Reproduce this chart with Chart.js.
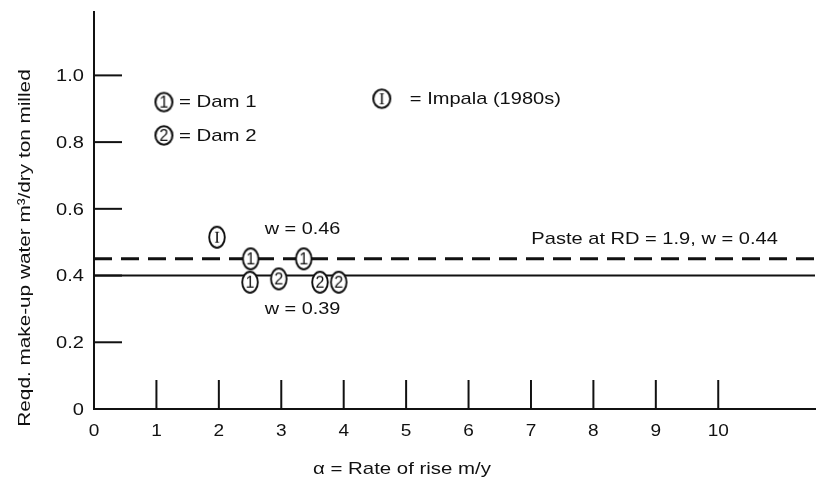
<!DOCTYPE html>
<html>
<head>
<meta charset="utf-8">
<script src="https://cdn.jsdelivr.net/npm/chart.js@4/dist/chart.umd.min.js"></script>
<style>
  html, body { margin: 0; padding: 0; background: #fff; }
</style>
</head>
<body>
<canvas id="chart" width="824" height="488"></canvas>
<script>
// Data
const xTicks = [0, 1, 2, 3, 4, 5, 6, 7, 8, 9, 10];
const yTicks = [0, 0.2, 0.4, 0.6, 0.8, 1.0];

const impalaX = [1.97];
const impalaY = [0.515];
const dam1X = [2.51, 3.36, 2.5];
const dam1Y = [0.45, 0.45, 0.38];
const dam2X = [2.96, 3.62, 3.92];
const dam2Y = [0.39, 0.38, 0.38];

// horizontal reference lines
const lineX = [0, 11.55];
const pasteY = [0.45, 0.45];   // Paste at RD = 1.9, w = 0.44 (dashed)
const wY = [0.4, 0.4];         // solid line

const FONT = '"Liberation Sans", Arial, sans-serif';
const INK = '#111';

function toPoints(xs, ys) {
  return xs.map((x, i) => ({ x: x, y: ys[i] }));
}

// circled number markers
function makeMarker(label, rx, ry, lw, serif) {
  const c = document.createElement('canvas');
  c.width = Math.ceil(rx * 2 + 4);
  c.height = Math.ceil(ry * 2 + 4);
  const g = c.getContext('2d');
  const cx = c.width / 2, cy = c.height / 2;
  g.fillStyle = '#fff';
  g.strokeStyle = INK;
  g.lineWidth = lw;
  g.beginPath();
  g.ellipse(cx, cy, rx, ry, 0, 0, Math.PI * 2);
  g.fill();
  g.stroke();
  g.fillStyle = INK;
  g.textAlign = 'center';
  g.textBaseline = 'middle';
  g.font = serif ? '17px "Liberation Serif", serif' : '16px ' + FONT;
  g.fillText(label, cx, cy + 1);
  return c;
}
const mark1 = makeMarker('1', 7.8, 10.5, 1.9);
const mark2 = makeMarker('2', 7.8, 10.5, 1.9);
const markI = makeMarker('I', 7.8, 10.5, 1.9, true);
const key1 = makeMarker('1', 8.5, 9.2, 2.1);
const key2 = makeMarker('2', 8.5, 9.2, 2.1);
const keyI = makeMarker('I', 8.5, 9.2, 2.1, true);

// wide Helvetica-like lettering of the original
function wideText(ctx, s, x, y, align, size, stretch, angle) {
  ctx.save();
  ctx.translate(x, y);
  if (angle) ctx.rotate(angle);
  ctx.scale(stretch, 1);
  ctx.font = size + 'px ' + FONT;
  ctx.fillStyle = INK;
  ctx.textAlign = align;
  ctx.textBaseline = 'middle';
  ctx.fillText(s, 0, 0);
  ctx.restore();
}

const decorPlugin = {
  id: 'decor',
  afterDraw(chart) {
    const { ctx, chartArea, scales } = chart;
    const sx = scales.x, sy = scales.y;
    ctx.save();
    ctx.strokeStyle = INK;
    ctx.lineWidth = 2;
    // inner tick marks and tick labels
    xTicks.forEach(v => {
      const px = sx.getPixelForValue(v);
      if (v !== 0) {
        ctx.beginPath();
        ctx.moveTo(px, chartArea.bottom);
        ctx.lineTo(px, chartArea.bottom - 29);
        ctx.stroke();
      }
      wideText(ctx, String(v), px, chartArea.bottom + 22, 'center', 17, 1.12);
    });
    yTicks.forEach(v => {
      const py = sy.getPixelForValue(v);
      if (v !== 0) {
        ctx.beginPath();
        ctx.moveTo(chartArea.left, py);
        ctx.lineTo(chartArea.left + 28, py);
        ctx.stroke();
      }
      wideText(ctx, v === 0 ? '0' : v.toFixed(1), chartArea.left - 10, py + 1, 'right', 17, 1.18);
    });

    const T = (s, x, y, align, stretch) =>
      wideText(ctx, s, sx.getPixelForValue(x), sy.getPixelForValue(y), align || 'center', 17, stretch || 1.2);
    const img = (m, x, y) =>
      ctx.drawImage(m, sx.getPixelForValue(x) - m.width / 2, sy.getPixelForValue(y) - m.height / 2);

    T('w = 0.46', 3.34, 0.54, 'center', 1.17);
    T('w = 0.39', 3.34, 0.30, 'center', 1.17);
    T('Paste at RD = 1.9, w = 0.44', 8.98, 0.51, 'center', 1.18);

    img(key1, 1.12, 0.92);
    T('= Dam 1', 1.36, 0.918, 'left', 1.2);
    img(key2, 1.12, 0.82);
    T('= Dam 2', 1.36, 0.818, 'left', 1.2);
    img(keyI, 4.61, 0.93);
    T('= Impala (1980s)', 5.06, 0.927, 'left', 1.18);

    // axis titles
    wideText(ctx, '\u03b1 = Rate of rise m/y', 402, 469, 'center', 17, 1.2);
    wideText(ctx, 'Reqd. make-up water m\u00b3/dry ton milled', 25, 248, 'center', 17, 1.22, -Math.PI / 2);
    ctx.restore();
  }
};

const ctx = document.getElementById('chart').getContext('2d');
const chart = new Chart(ctx, {
  type: 'scatter',
  data: {
    datasets: [
      { label: 'Impala (1980s)', data: toPoints(impalaX, impalaY), pointStyle: markI, order: 0 },
      { label: 'Dam 1', data: toPoints(dam1X, dam1Y), pointStyle: mark1, order: 0 },
      { label: 'Dam 2', data: toPoints(dam2X, dam2Y), pointStyle: mark2, order: 0 },
      {
        type: 'line', label: 'Paste', data: toPoints(lineX, pasteY),
        borderColor: INK, borderWidth: 3, borderDash: [18, 9],
        pointRadius: 0, order: 2
      },
      {
        type: 'line', label: 'w', data: toPoints(lineX, wY),
        borderColor: INK, borderWidth: 2,
        pointRadius: 0, order: 2
      }
    ]
  },
  options: {
    responsive: false,
    animation: false,
    devicePixelRatio: 1,
    layout: { padding: { top: 12, right: 9, left: 0, bottom: 0 } },
    plugins: {
      legend: { display: false },
      tooltip: { enabled: false }
    },
    scales: {
      x: {
        type: 'linear',
        min: 0,
        max: 11.55,
        afterFit: (scale) => { scale.height = 79; },
        grid: { display: false, drawTicks: false },
        border: { display: true, color: INK, width: 2 },
        ticks: { display: false, stepSize: 1 }
      },
      y: {
        min: 0,
        max: 1.19,
        afterFit: (scale) => { scale.width = 94; },
        grid: { display: false, drawTicks: false },
        border: { display: true, color: INK, width: 2 },
        ticks: { display: false, stepSize: 0.2 }
      }
    }
  },
  plugins: [decorPlugin]
});
</script>
</body>
</html>
